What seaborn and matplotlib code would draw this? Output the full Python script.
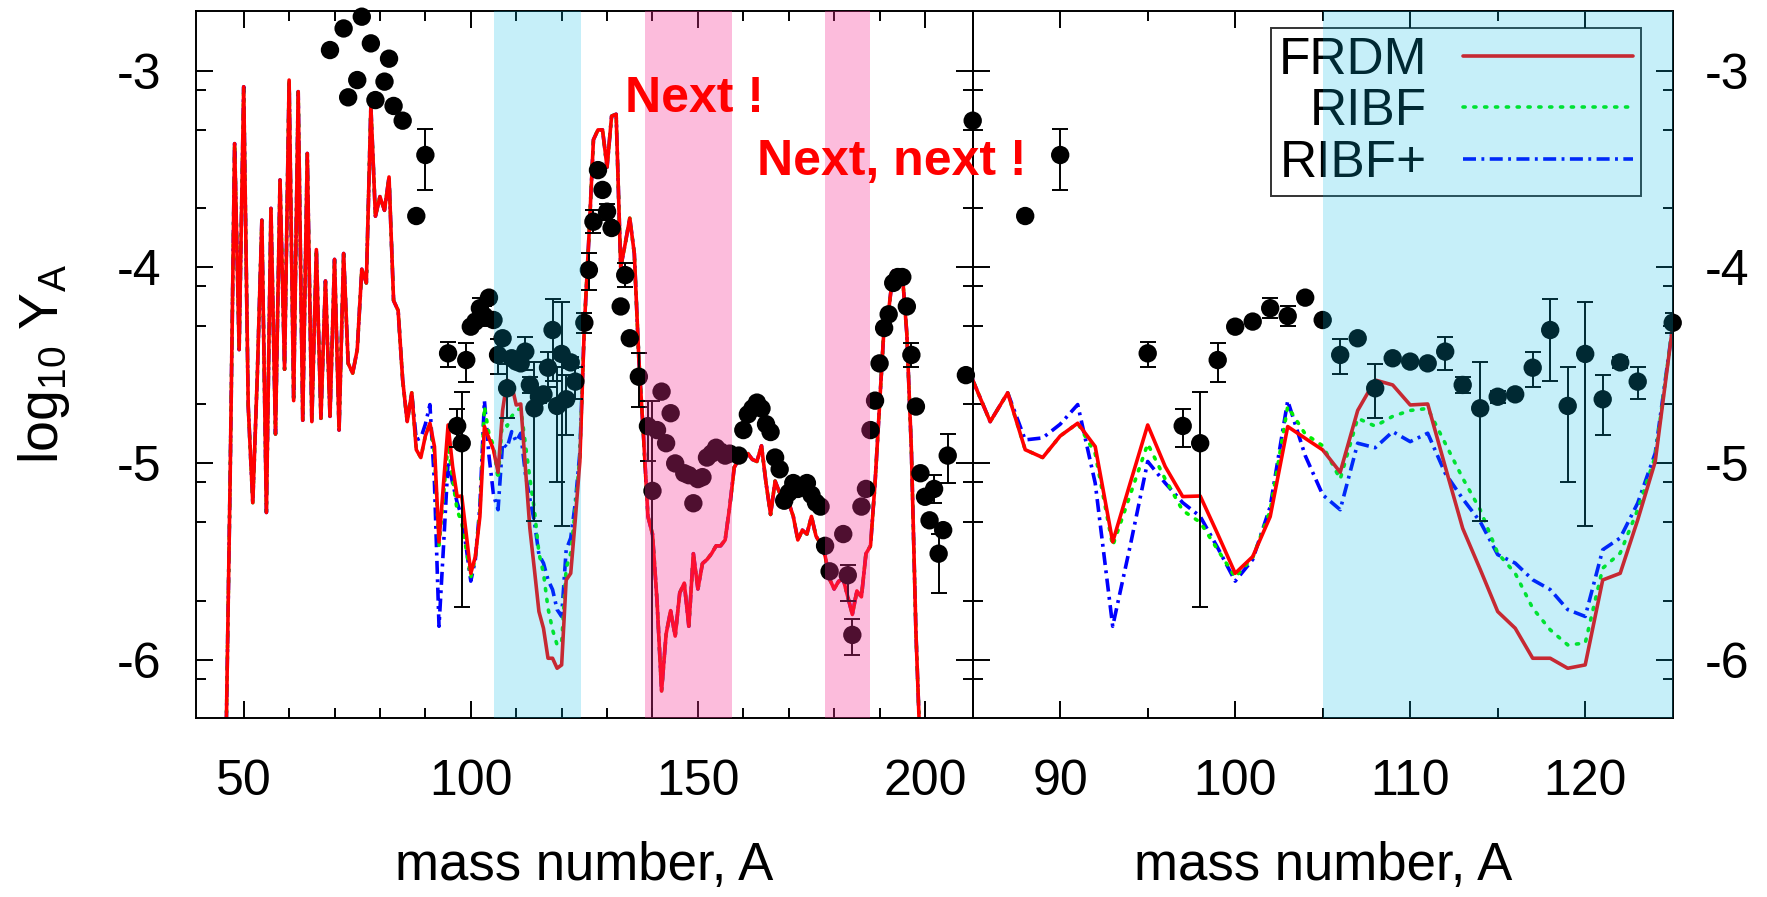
import numpy as np
import pandas as pd
import matplotlib
matplotlib.use("Agg")
import matplotlib.pyplot as plt
import seaborn as sns
from matplotlib.lines import Line2D

# ---------------- data ----------------
A_model = list(range(46, 201))
frdm = [-6.60, -5.10, -3.37, -4.42, -3.08, -4.71, -5.20, -4.55, -3.76, -5.25,
        -3.70, -4.85, -3.555, -4.52, -3.046, -4.68, -3.105, -4.78, -3.42, -4.787,
        -3.91, -4.77, -4.07, -4.76, -3.96, -4.83, -3.93, -4.49, -4.54, -4.42,
        -4.01, -4.08, -3.18, -3.74, -3.64, -3.71, -3.54, -4.17, -4.22, -4.575,
        -4.787, -4.64, -4.93, -4.97, -4.86, -4.795, -4.914, -5.40, -5.10, -4.804,
        -5.016, -5.169, -5.166, -5.36, -5.56, -5.475, -5.271, -4.812, -4.872, -4.931,
        -5.045, -4.73, -4.575, -4.60, -4.702, -4.697, -5.016, -5.331, -5.54, -5.755,
        -5.84, -5.993, -5.993, -6.044, -6.027, -5.594, -5.560, -5.288, -4.991, -4.30,
        -3.85, -3.35, -3.30, -3.30, -3.49, -3.23, -3.22, -4.00, -3.88, -3.75,
        -3.93, -4.47, -4.85, -5.27, -5.36, -5.70, -6.16, -5.87, -5.75, -5.88,
        -5.66, -5.61, -5.83, -5.46, -5.64, -5.51, -5.49, -5.46, -5.42, -5.42,
        -5.39, -5.22, -5.02, -4.98, -4.96, -4.95, -4.98, -4.99, -4.91, -5.10,
        -5.26, -5.09, -5.15, -5.14, -5.20, -5.27, -5.39, -5.34, -5.36, -5.27,
        -5.37, -5.41, -5.47, -5.59, -5.64, -5.60, -5.59, -5.68, -5.77, -5.65,
        -5.68, -5.46, -5.42, -5.10, -4.70, -4.30, -4.22, -4.02, -4.10, -4.03,
        -4.34, -4.93, -5.86, -6.50, -7.20]

# RIBF / RIBF+ differ from FRDM only in this mass range
A_sub = list(range(88, 125))
ribf_sub = [-4.93, -4.97, -4.86, -4.795, -4.95, -5.42, -5.16, -4.90, -5.08, -5.24,
            -5.30, -5.44, -5.58, -5.48, -5.24, -4.71, -4.85, -4.91, -5.08, -4.77,
            -4.81, -4.76, -4.73, -4.72, -4.897, -5.075, -5.236, -5.457, -5.560, -5.738,
            -5.848, -5.925, -5.916, -5.534, -5.457, -5.236, -4.965]
ribfp_sub = [-4.88, -4.87, -4.80, -4.70, -5.10, -5.83, -5.42, -4.99, -5.10, -5.20,
             -5.27, -5.43, -5.60, -5.49, -5.22, -4.68, -4.96, -5.16, -5.236, -4.897,
             -4.92, -4.838, -4.889, -4.846, -5.05, -5.18, -5.297, -5.465, -5.508, -5.593,
             -5.643, -5.745, -5.780, -5.440, -5.380, -5.202, -4.948]

exp_A = [69, 72, 73, 75, 76, 78, 79, 81, 82, 83,
         85, 88, 90, 95, 97, 98, 99, 100, 101, 102,
         103, 104, 105, 106, 107, 108, 109, 110, 111, 112,
         113, 114, 115, 116, 117, 118, 119, 120, 121, 122,
         123, 125, 126, 127, 128, 129, 130, 131, 133, 134,
         135, 137, 139, 140, 141, 142, 143, 144, 145, 147,
         148, 149, 150, 151, 152, 153, 154, 155, 156, 157,
         159, 160, 161, 162, 163, 164, 165, 166, 167, 168,
         169, 170, 171, 172, 173, 174, 175, 176, 177, 178,
         179, 182, 183, 184, 186, 187, 188, 189, 190, 191,
         192, 193, 194, 195, 196, 197, 198, 199, 200, 201,
         202, 203, 204, 205, 209]
exp_v = [-2.893, -2.783, -3.134, -3.046, -2.723, -2.859, -3.148, -3.054, -2.937, -3.178,
         -3.253, -3.739, -3.428, -4.439, -4.809, -4.897, -4.473, -4.303, -4.277, -4.209,
         -4.249, -4.155, -4.269, -4.447, -4.362, -4.617, -4.464, -4.481, -4.490, -4.430,
         -4.600, -4.719, -4.660, -4.648, -4.512, -4.320, -4.707, -4.442, -4.673, -4.485,
         -4.583, -4.283, -4.014, -3.768, -3.505, -3.606, -3.717, -3.800, -4.200, -4.040,
         -4.362, -4.558, -4.810, -5.140, -4.830, -4.634, -4.897, -4.744, -5.000, -5.050,
         -5.060, -5.203, -5.080, -5.070, -4.970, -4.950, -4.920, -4.940, -4.960, -4.950,
         -4.960, -4.830, -4.750, -4.720, -4.690, -4.720, -4.800, -4.840, -4.970, -5.030,
         -5.190, -5.150, -5.100, -5.130, -5.120, -5.100, -5.160, -5.200, -5.220, -5.420,
         -5.550, -5.360, -5.570, -5.874, -5.220, -5.130, -4.830, -4.680, -4.490, -4.310,
         -4.240, -4.080, -4.050, -4.050, -4.200, -4.447, -4.710, -5.050, -5.170, -5.290,
         -5.130, -5.460, -5.340, -4.960, -4.550]

err_A = [90, 95, 97, 98, 99, 102, 103, 106, 108, 112,
         113, 114, 115, 117, 118, 119, 120, 121, 122, 123,
         125, 126, 127, 130, 134, 137, 139, 140, 183, 184,
         197, 202, 203, 205]
err_lo = [0.178, 0.068, 0.105, 0.833, 0.11, 0.05, 0.05, 0.097, 0.153, 0.094,
          0.04, 0.573, 0.03, 0.097, 0.26, 0.389, 0.877, 0.182, 0.03, 0.09,
          0.05, 0.10, 0.06, 0.04, 0.06, 0.153, 0.18, 3.0, 0.13, 0.10,
          0.06, 0.07, 0.20, 0.14]
err_hi = [0.132, 0.06, 0.085, 0.263, 0.085, 0.05, 0.05, 0.08, 0.124, 0.076,
          0.04, 0.238, 0.03, 0.082, 0.158, 0.2, 0.267, 0.124, 0.03, 0.076,
          0.05, 0.085, 0.06, 0.04, 0.06, 0.119, 0.13, 0.46, 0.05, 0.08,
          0.06, 0.07, 0.10, 0.11]

labels = ["FRDM", "RIBF", "RIBF+"]
x_labels_left = [50, 100, 150, 200]
x_labels_right = [90, 100, 110, 120]
y_labels = [-3, -4, -5, -6]

# ---------------- build frames ----------------
frdm_s = pd.Series(frdm, index=A_model)
ribf_s = frdm_s.copy()
ribf_s.loc[A_sub] = ribf_sub
ribfp_s = frdm_s.copy()
ribfp_s.loc[A_sub] = ribfp_sub
models = pd.concat([
    pd.DataFrame({"A": A_model, "logY": frdm_s.values, "model": "FRDM"}),
    pd.DataFrame({"A": A_model, "logY": ribf_s.values, "model": "RIBF"}),
    pd.DataFrame({"A": A_model, "logY": ribfp_s.values, "model": "RIBF+"}),
], ignore_index=True)
exp = pd.DataFrame({"A": exp_A, "logY": exp_v})
exp_err = pd.DataFrame({"A": err_A, "lo": err_lo, "hi": err_hi}).merge(exp, on="A")

# ---------------- style ----------------
sns.set_style("ticks")
plt.rcParams["font.family"] = ["Liberation Sans", "DejaVu Sans"]
plt.rcParams["axes.unicode_minus"] = False
plt.rcParams["mathtext.fontset"] = "custom"
plt.rcParams["mathtext.rm"] = "Liberation Sans"
plt.rcParams["mathtext.it"] = "Liberation Sans:italic"
for key in ("text.color", "axes.labelcolor", "xtick.color", "ytick.color",
            "axes.edgecolor", "xtick.labelcolor", "ytick.labelcolor"):
    plt.rcParams[key] = "black"

colors = {"FRDM": "#ff0000", "RIBF": "#00ee00", "RIBF+": "#0000ff"}
styles = {"FRDM": "-", "RIBF": (0, (0.6, 2.4)), "RIBF+": (0, (3.6, 1.5, 0.8, 1.5))}
BLUE_SHADE = "#00bbe8"
PINK_SHADE = "#f63194"
TICK_FS = 36
LABEL_FS = 38
LW = 2.6

W, Hpx = 1767, 897
fig = plt.figure(figsize=(W / 100, Hpx / 100), dpi=100)
fig.patch.set_facecolor("white")
bottom = (Hpx - 717.7) / Hpx
height = (717.7 - 11) / Hpx
ax1 = fig.add_axes([196 / W, bottom, (972.7 - 196) / W, height])
ax2 = fig.add_axes([972.7 / W, bottom, 700 / W, height])
ax1.set_zorder(2)
ax2.set_zorder(1)
for ax in (ax1, ax2):
    ax.patch.set_visible(False)


def draw(ax, xmin, xmax):
    for name in ["RIBF+", "RIBF", "FRDM"]:
        d = models[models["model"] == name]
        sns.lineplot(data=d, x="A", y="logY", color=colors[name], lw=LW,
                     linestyle=styles[name], ax=ax, estimator=None, sort=False,
                     legend=False, zorder=2,
                     dash_capstyle="round" if name == "RIBF" else "butt")
    e = exp_err[(exp_err["A"] >= xmin) & (exp_err["A"] <= xmax)]
    ax.errorbar(e["A"], e["logY"], yerr=[e["lo"], e["hi"]], fmt="none",
                ecolor="black", elinewidth=1.4, capsize=6, capthick=1.4, zorder=3)
    p = exp[(exp["A"] >= xmin) & (exp["A"] <= xmax)]
    sns.scatterplot(data=p, x="A", y="logY", color="black", s=175,
                    edgecolor="none", ax=ax, zorder=4, clip_on=False, legend=False)
    ax.set_xlim(xmin, xmax)
    ax.set_ylim(-6.296, -2.694)


draw(ax1, 39.5, 210.5)
draw(ax2, 85, 125)

# shaded overlays (drawn on top, semi-transparent)
ax1.axvspan(105.2, 124.3, color=BLUE_SHADE, alpha=0.224, lw=0, zorder=10)
ax1.axvspan(138.25, 157.4, color=PINK_SHADE, alpha=0.325, lw=0, zorder=10)
ax1.axvspan(177.9, 187.85, color=PINK_SHADE, alpha=0.325, lw=0, zorder=10)
ax2.axvspan(105, 125, color=BLUE_SHADE, alpha=0.224, lw=0, zorder=10)

# ticks
minor_y = [d + np.log10(k) for d in range(-7, -2) for k in (2, 5, 8)]
minor_y = [m for m in minor_y if -6.296 < m < -2.70]
ax1.set_xticks(x_labels_left)
ax1.set_xticks([m for m in range(60, 200, 10) if m % 50], minor=True)
ax2.set_xticks(x_labels_right)
ax2.set_xticks([95, 105, 115], minor=True)
for ax in (ax1, ax2):
    ax.set_yticks(y_labels)
    ax.set_yticks(minor_y, minor=True)
    ax.tick_params(which="both", direction="in", top=True, bottom=True,
                   left=True, right=True, width=1.4, color="black",
                   labelcolor="black")
    ax.tick_params(which="major", length=12.5)
    ax.tick_params(which="minor", length=7)
    ax.tick_params(axis="x", labelsize=TICK_FS, pad=30)
    ax.tick_params(axis="y", labelsize=TICK_FS)
    for s in ax.spines.values():
        s.set_linewidth(1.4)
        s.set_color("black")
    ax.set_xlabel("mass number, A", fontsize=LABEL_FS, labelpad=26, color="black")
    ax.set_ylabel("")
ax1.tick_params(axis="y", labelleft=True, labelright=False, pad=25)
ax2.tick_params(axis="y", labelleft=False, labelright=True, pad=23)
ax1.set_ylabel(r"$\mathregular{log_{10}\ Y_A}$", fontsize=40, labelpad=32, color="black")

# legend (under the shading)
handles = [Line2D([], [], color=colors[n], lw=LW, linestyle=styles[n],
                  dash_capstyle="round" if n == "RIBF" else "butt") for n in labels]
leg = ax2.legend(handles, labels, loc="upper right", bbox_to_anchor=(0.954, 0.976),
                 borderaxespad=0, markerfirst=False, frameon=True, fancybox=False,
                 fontsize=37, handlelength=3.3, handletextpad=0.7,
                 labelspacing=0.05, borderpad=0.15)
leg.get_frame().set_facecolor("none")
leg.get_frame().set_edgecolor("black")
leg.get_frame().set_linewidth(1.4)
for t in leg.get_texts():
    t.set_color("black")
leg.set_zorder(5)

# annotations
ax1.text(134.05, -3.207, "Next !", color="red", fontsize=36, fontweight="bold",
         ha="left", va="baseline", zorder=20, clip_on=False)
ax1.text(163.0, -3.53, "Next, next !", color="red", fontsize=36, fontweight="bold",
         ha="left", va="baseline", zorder=20, clip_on=False)

fig.savefig("out.png", dpi=100, facecolor="white")
